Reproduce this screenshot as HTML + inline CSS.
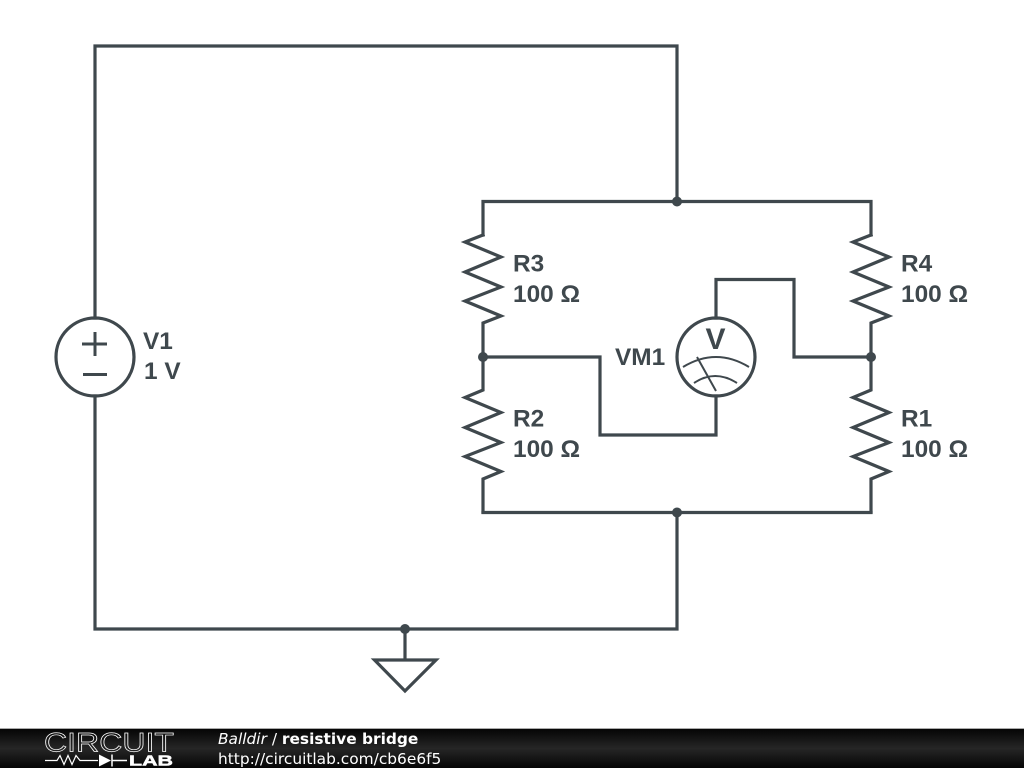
<!DOCTYPE html>
<html>
<head>
<meta charset="utf-8">
<style>
html,body{margin:0;padding:0;background:#fff;width:1024px;height:768px;overflow:hidden}
svg{display:block}
.w{fill:none;stroke:#3f484d;stroke-width:3.200;stroke-linejoin:miter;stroke-linecap:square}
.t{font-family:"Liberation Sans",sans-serif;font-weight:bold;font-size:24.400px;fill:#3f484d}
.f{font-family:"DejaVu Sans",sans-serif;font-size:15.400px;fill:#fff}
</style>
</head>
<body>
<svg width="1024" height="768" viewBox="0 0 1024 768" xmlns="http://www.w3.org/2000/svg">
<defs>
<linearGradient id="g" x1="0" y1="0" x2="0" y2="1">
<stop offset="0" stop-color="#050505"/><stop offset="0.5" stop-color="#262626"/><stop offset="1" stop-color="#050505"/>
</linearGradient>
</defs>
<rect width="1024" height="768" fill="#fff"/>
<path class="w" d="M95 318V46H677V201M95 396V629H677V512"/>
<path class="w" d="M483 235V201.500H871V235"/>
<path class="w" d="M483 235L465 242L501 257L465 272L501 287L465 301L501 316L483 323V357"/>
<path class="w" d="M871 235L853 242L889 257L853 272L889 287L853 301L889 316L871 323V357"/>
<path class="w" d="M483 357V390L465 397.500L501 412.500L465 427.500L501 442.500L465 456.500L501 471.500L483 479V512"/>
<path class="w" d="M871 357V390L853 397.500L889 412.500L853 427.500L889 442.500L853 456.500L889 471.500L871 479V512"/>
<path class="w" d="M483 512.500H871"/>
<path class="w" d="M483 357H600V435H716V396"/>
<path class="w" d="M716 318V279.500H794V357H871"/>
<circle cx="95" cy="357" r="39" class="w"/>
<circle cx="716" cy="357" r="39" class="w"/>
<path d="M82 344H107M95 332V356M83 374.500H107" fill="none" stroke="#3f484d" stroke-width="3"/>
<path d="M683 367Q716 347 749 367M694 383Q715 369 737 383M697 357L716 391" fill="none" stroke="#3f484d" stroke-width="2"/>
<circle cx="677" cy="201.500" r="5" fill="#3f484d"/>
<circle cx="677" cy="512.500" r="5" fill="#3f484d"/>
<circle cx="483" cy="357" r="5" fill="#3f484d"/>
<circle cx="871" cy="357" r="5" fill="#3f484d"/>
<circle cx="405" cy="629" r="5" fill="#3f484d"/>
<path class="w" d="M405 629V660M374.500 660H436L405 691Z"/>
<text class="t" x="513" y="271.500">R3</text>
<text class="t" x="513" y="302">100 Ω</text>
<text class="t" x="513" y="426.500">R2</text>
<text class="t" x="513" y="457">100 Ω</text>
<text class="t" x="901" y="271.500">R4</text>
<text class="t" x="901" y="302">100 Ω</text>
<text class="t" x="901" y="426.500">R1</text>
<text class="t" x="901" y="457">100 Ω</text>
<text class="t" x="143" y="349">V1</text>
<text class="t" x="144" y="379">1 V</text>
<text class="t" x="615" y="365">VM1</text>
<text class="t" x="705.500" y="349" style="font-size:30px">V</text>
<rect x="0" y="729" width="1024" height="39" fill="url(#g)"/>
<rect x="0" y="728" width="1024" height="1" fill="#aaa"/>
<text x="44" y="751.500" font-family="Liberation Sans, sans-serif" font-size="27" fill="none" stroke="#fff" stroke-width="0.7" textLength="130" lengthAdjust="spacingAndGlyphs">CIRCUIT</text>
<path d="M45 760.500H57L60 755.500L64 764.500L68 755.500L72 764.500L76 755.500L80 760.500H98" fill="none" stroke="#fff" stroke-width="1.200"/>
<path d="M99 754.500L111 760.500L99 766.500Z" fill="#fff"/>
<path d="M112 754.500V766.500M112 760.500H127" fill="none" stroke="#fff" stroke-width="1.500"/>
<text x="129" y="765.500" font-family="Liberation Sans, sans-serif" font-size="15" font-weight="bold" fill="#fff" stroke="#fff" stroke-width="0.5" textLength="44" lengthAdjust="spacingAndGlyphs">LAB</text>
<text class="f" x="218" y="744"><tspan font-style="italic">Balldir</tspan> / <tspan font-weight="bold">resistive bridge</tspan></text>
<text class="f" x="218" y="764">http://circuitlab.com/cb6e6f5</text>
</svg>
</body>
</html>
